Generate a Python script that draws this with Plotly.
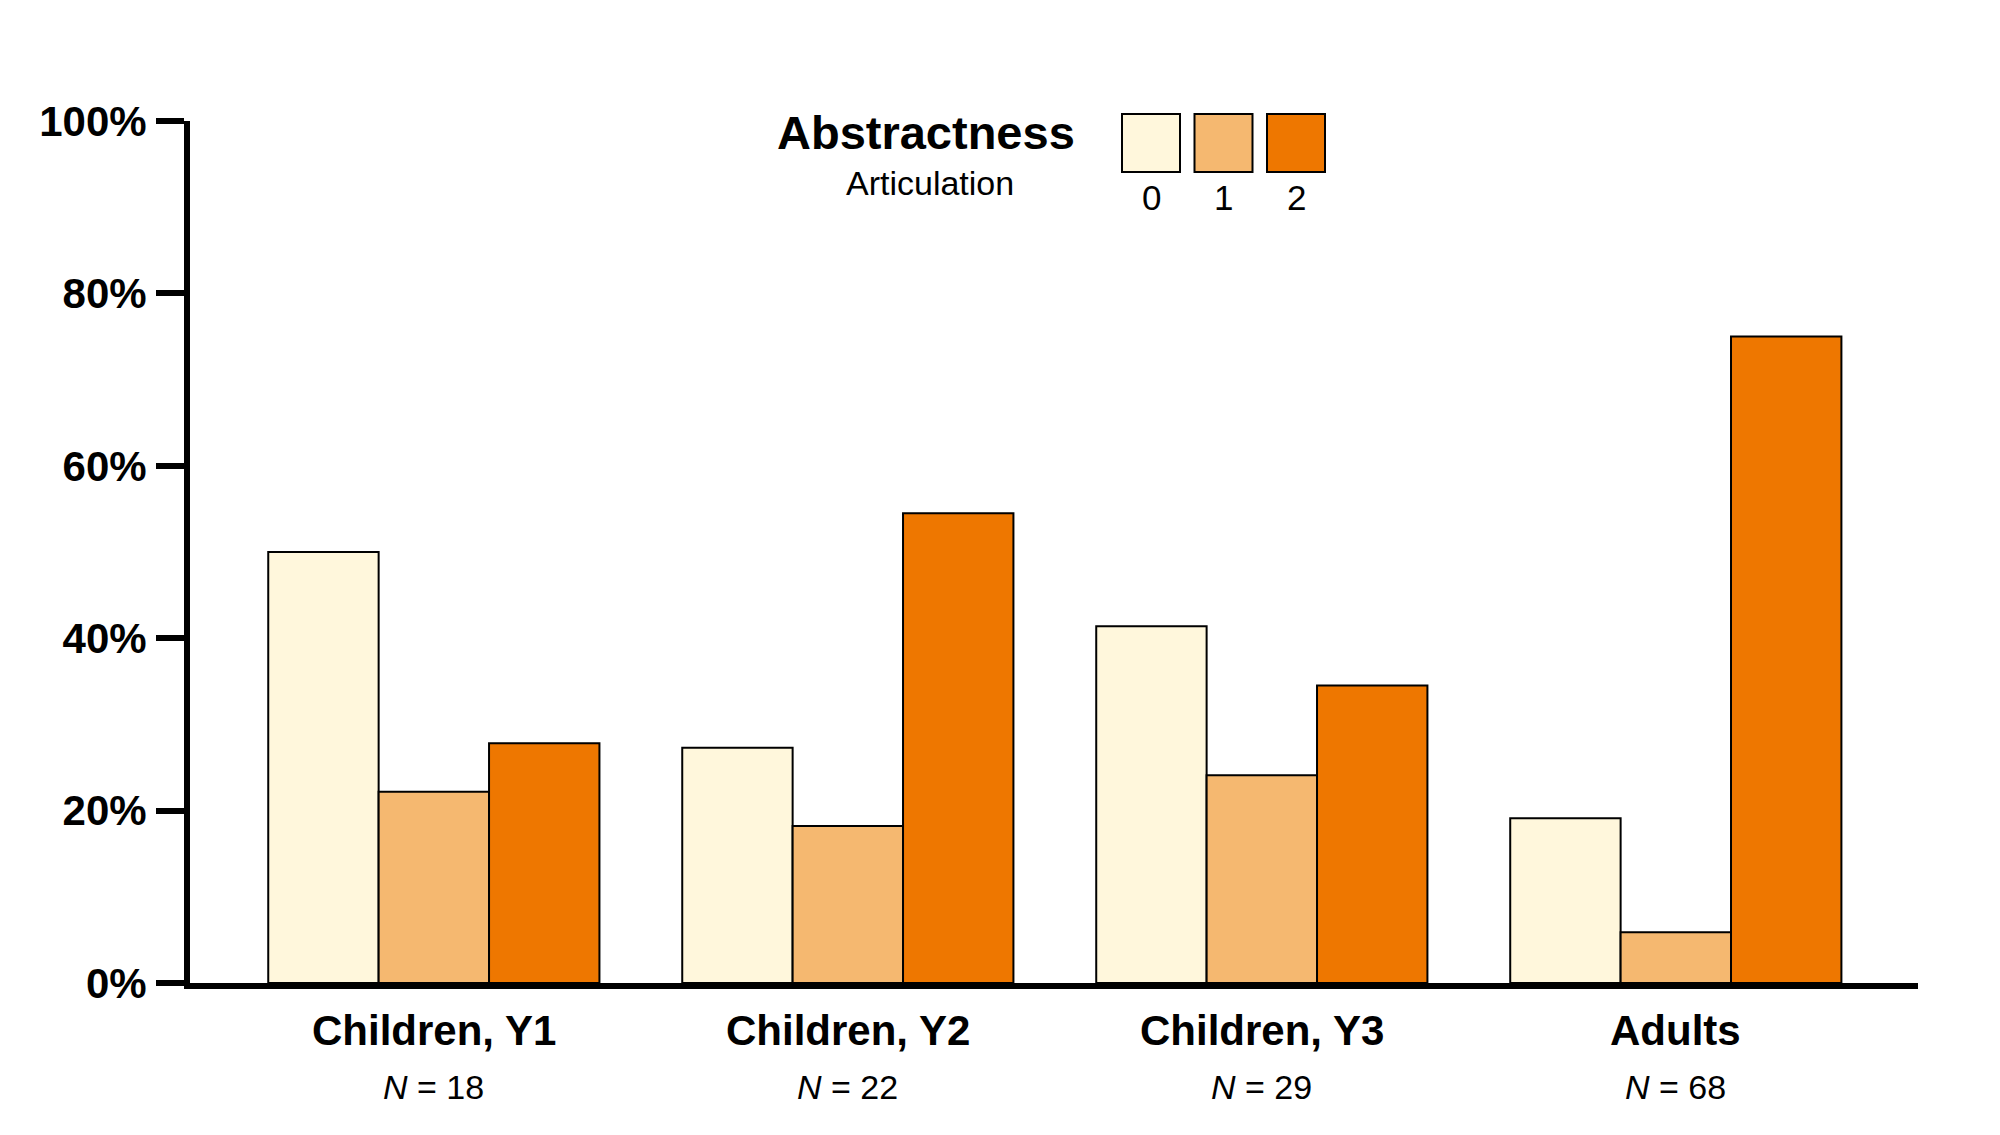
import plotly.graph_objects as go

# ---- data ----
groups = ["Children, Y1", "Children, Y2", "Children, Y3", "Adults"]
group_n = [18, 22, 29, 68]
levels = ["0", "1", "2"]
level0 = [50.0, 27.3, 41.4, 19.1]
level1 = [22.2, 18.2, 24.1, 5.9]
level2 = [27.8, 54.5, 34.5, 75.0]
series = [level0, level1, level2]
colors = ["#FFF7DC", "#F5B870", "#EE7700"]
yticks = [0, 20, 40, 60, 80, 100]
ytick_text = [f"{v}%" for v in yticks]

W, H = 2000, 1135
ML, MR, MT, MB = 182, 90, 113, 160
PW, PH = W - ML - MR, H - MT - MB
FONT = "Liberation Sans, Arial, Helvetica, sans-serif"


def px(x):
    return (x - ML) / PW


def py(y):
    return (H - MB - y) / PH


fig = go.Figure()
for name, vals, col in zip(levels, series, colors):
    fig.add_trace(go.Bar(
        x=groups, y=vals, name=name,
        marker=dict(color=col, line=dict(color="black", width=2)),
        showlegend=False,
    ))

fig.update_layout(
    width=W, height=H,
    margin=dict(l=ML, r=MR, t=MT, b=MB, pad=0),
    paper_bgcolor="white", plot_bgcolor="white",
    barmode="group", bargap=0.2, bargroupgap=0,
    font=dict(family=FONT, color="black"),
)
fig.update_xaxes(
    type="category", range=[-0.589, 3.585],
    showline=True, linecolor="black", linewidth=6,
    showticklabels=False, ticks="", showgrid=False, zeroline=False,
)
fig.update_yaxes(
    range=[0, 100], tickvals=yticks, ticktext=ytick_text,
    showline=True, linecolor="black", linewidth=6,
    ticks="outside", ticklen=28, tickwidth=6, tickcolor="black",
    tickfont=dict(family=FONT, size=42, color="black", weight="bold"),
    showgrid=False, zeroline=False, ticklabelstandoff=1,
)

# category labels
for g, n in zip(groups, group_n):
    fig.add_annotation(x=g, xref="x", y=py(1022), yref="paper",
                       text=f"<b>{g}</b>", showarrow=False,
                       font=dict(size=42, family=FONT, color="black"),
                       xanchor="center", yanchor="middle")
    fig.add_annotation(x=g, xref="x", y=py(1079), yref="paper",
                       text=f"<i>N</i> = {n}", showarrow=False,
                       font=dict(size=34, family=FONT, color="black"),
                       xanchor="center", yanchor="middle")

# legend (custom)
fig.add_annotation(x=px(918), y=py(124), xref="paper", yref="paper",
                   text="<b>Abstractness</b>", showarrow=False,
                   font=dict(size=47, family=FONT, color="black"),
                   xanchor="center", yanchor="middle")
fig.add_annotation(x=px(922), y=py(175), xref="paper", yref="paper",
                   text="Articulation", showarrow=False,
                   font=dict(size=34, family=FONT, color="black"),
                   xanchor="center", yanchor="middle")
sq_left = [1114, 1186.5, 1259]
for x0, col, lab in zip(sq_left, colors, levels):
    fig.add_shape(type="rect", xref="paper", yref="paper",
                  x0=px(x0), x1=px(x0 + 58), y0=py(164), y1=py(106),
                  fillcolor=col, line=dict(color="black", width=2))
    fig.add_annotation(x=px(x0 + 29), y=py(190), xref="paper", yref="paper",
                       text=lab, showarrow=False,
                       font=dict(size=35, family=FONT, color="black"),
                       xanchor="center", yanchor="middle")

fig.write_html("out.html")
